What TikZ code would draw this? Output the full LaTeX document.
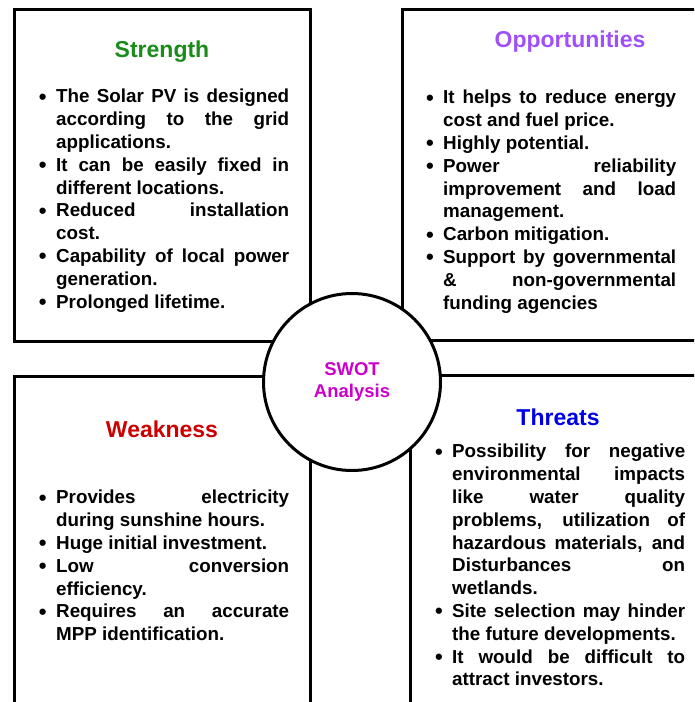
\documentclass[tikz,border=0pt]{standalone}
\usepackage{fontspec}
\setmainfont{Liberation Sans}
\usepackage{tikz}
\usetikzlibrary{positioning}

\definecolor{strengthgreen}{RGB}{26,140,26}
\definecolor{opportunitypurple}{RGB}{160,80,250}
\definecolor{weaknessred}{RGB}{204,0,0}
\definecolor{threatblue}{RGB}{0,0,230}
\definecolor{swotmagenta}{RGB}{204,0,204}

% justified lines, no hyphenation, no complaints about loose lines
\tolerance=10000
\hbadness=10000
\hyphenpenalty=10000
\exhyphenpenalty=10000

% one bullet point, bullet hung in the left margin
\newcommand{\swotitem}{\par\leftskip=14pt\noindent\llap{\raisebox{-1.5pt}{\fontsize{22}{22}\selectfont\textbullet}\hspace{9.5pt}}}

\begin{document}
\begin{tikzpicture}[x=1pt, y=-1pt,
  swotbox/.style={line width=3pt},
  swottitle/.style={anchor=base, font=\fontsize{23}{27}\selectfont\bfseries},
  itemlist/.style={anchor=base west, inner sep=0pt, text width=247pt, align=justify,
    font=\fontsize{18.8}{22.8}\selectfont\bfseries},
  hub/.style={circle, draw, line width=3pt, fill=white, minimum size=177pt, inner sep=0pt,
    align=center, text=swotmagenta, font=\fontsize{18.5}{22.8}\selectfont\bfseries}]
  \useasboundingbox (0,0) rectangle (694,702);
  \clip (0,0) rectangle (694,702);

  % Quadrant frames
  \draw[swotbox] (14,9) rectangle (310,341);
  \draw[swotbox] (402,9) rectangle (720,340);
  \draw[swotbox] (14,376) rectangle (310,730);
  \draw[swotbox] (410,375) rectangle (720,730);

  % Strength
  \node[swottitle, text=strengthgreen] (s_title) at (162,57) {Strength};
  \node[itemlist] (s_list) at (42,80) {%
    \swotitem The Solar PV is designed\linebreak according to the grid\linebreak applications.
    \swotitem It can be easily fixed in\linebreak different locations.
    \swotitem Reduced installation\linebreak cost.
    \swotitem Capability of local power\linebreak generation.
    \swotitem Prolonged lifetime.\par};

  % Opportunities
  \node[swottitle, text=opportunitypurple] (o_title) at (570,47) {Opportunities};
  \node[itemlist] (o_list) at (429,81) {%
    \swotitem It helps to reduce energy\linebreak cost and fuel price.
    \swotitem Highly potential.
    \swotitem Power reliability\linebreak improvement and load\linebreak management.
    \swotitem Carbon mitigation.
    \swotitem Support by governmental\linebreak \& non-governmental\linebreak funding agencies\par};

  % Weakness
  \node[swottitle, text=weaknessred] (w_title) at (162,437) {Weakness};
  \node[itemlist] (w_list) at (42,481) {%
    \swotitem Provides electricity\linebreak during sunshine hours.
    \swotitem Huge initial investment.
    \swotitem Low conversion\linebreak efficiency.
    \swotitem Requires an accurate\linebreak MPP identification.\par};

  % Threats
  \node[swottitle, text=threatblue] (t_title) at (558,425) {Threats};
  \node[itemlist] (t_list) at (438,435) {%
    \swotitem Possibility for negative\linebreak environmental impacts\linebreak like water quality\linebreak problems, utilization of\linebreak hazardous materials, and\linebreak Disturbances on\linebreak wetlands.
    \swotitem Site selection may hinder\linebreak the future developments.
    \swotitem It would be difficult to\linebreak attract investors.\par};

  % Centre circle
  \node[hub] (swot) at (352,382) {SWOT\\Analysis};
\end{tikzpicture}
\end{document}
